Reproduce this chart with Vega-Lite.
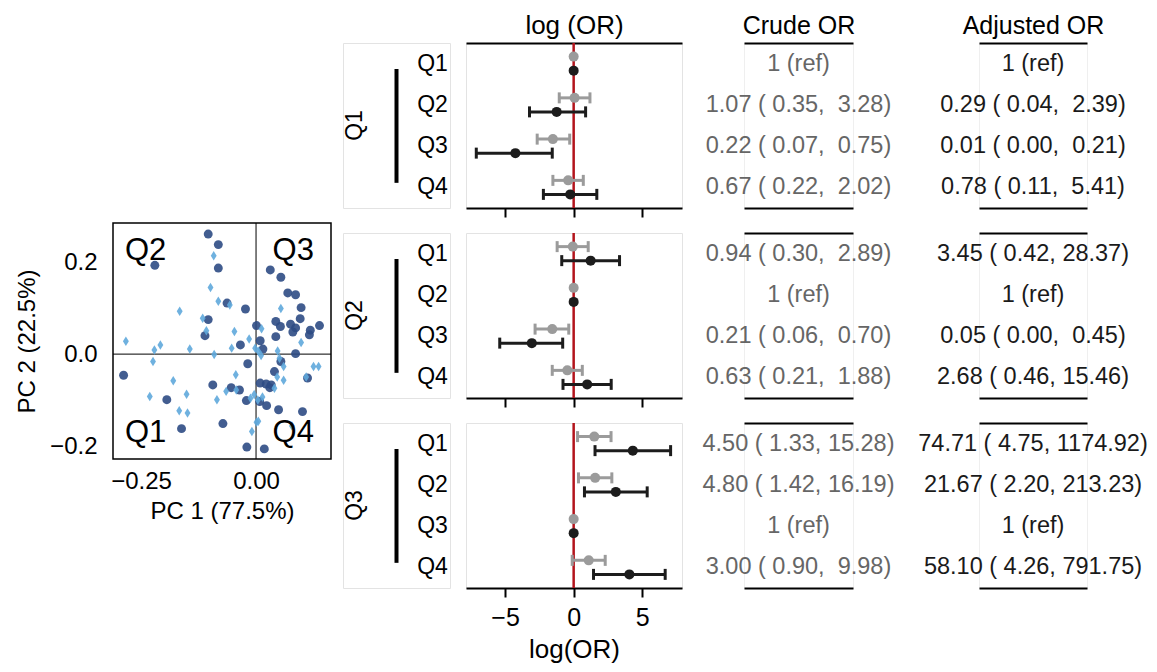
{
"$schema": "https://vega.github.io/schema/vega-lite/v6.json",
"background": "white",
"padding": {"left": 14, "top": 11, "right": 5, "bottom": 5},
"config": {"font": "Liberation Sans", "view": {"stroke": null}, "axis": {"grid": false, "titleFontWeight": "normal", "titleColor": "black", "labelColor": "black"}},
"resolve": {"scale": {"color": "independent", "shape": "independent", "size": "independent"}},
"datasets": {
"pca": [
{"pc1":-0.104,"pc2":0.261,"group":"g1"},{"pc1":-0.082,"pc2":0.238,"group":"g1"},{"pc1":-0.220,"pc2":0.193,"group":"g1"},{"pc1":-0.082,"pc2":0.187,"group":"g1"},{"pc1":0.031,"pc2":0.183,"group":"g1"},{"pc1":0.054,"pc2":0.167,"group":"g1"},{"pc1":0.069,"pc2":0.133,"group":"g1"},{"pc1":0.086,"pc2":0.129,"group":"g1"},{"pc1":-0.063,"pc2":0.111,"group":"g1"},{"pc1":-0.023,"pc2":0.098,"group":"g1"},{"pc1":0.098,"pc2":0.101,"group":"g1"},{"pc1":-0.104,"pc2":0.075,"group":"g1"},{"pc1":0.043,"pc2":0.071,"group":"g1"},{"pc1":0.096,"pc2":0.077,"group":"g1"},{"pc1":0.075,"pc2":0.065,"group":"g1"},{"pc1":0.053,"pc2":0.060,"group":"g1"},{"pc1":0.138,"pc2":0.062,"group":"g1"},{"pc1":0.086,"pc2":0.057,"group":"g1"},{"pc1":0.118,"pc2":0.052,"group":"g1"},{"pc1":0.080,"pc2":0.048,"group":"g1"},{"pc1":0.001,"pc2":0.062,"group":"g1"},{"pc1":-0.111,"pc2":0.040,"group":"g1"},{"pc1":0.043,"pc2":0.038,"group":"g1"},{"pc1":0.009,"pc2":0.029,"group":"g1"},{"pc1":0.116,"pc2":0.042,"group":"g1"},{"pc1":-0.034,"pc2":0.020,"group":"g1"},{"pc1":0.015,"pc2":0.011,"group":"g1"},{"pc1":0.086,"pc2":0.001,"group":"g1"},{"pc1":0.054,"pc2":-0.016,"group":"g1"},{"pc1":-0.018,"pc2":-0.021,"group":"g1"},{"pc1":-0.288,"pc2":-0.046,"group":"g1"},{"pc1":-0.094,"pc2":-0.067,"group":"g1"},{"pc1":-0.054,"pc2":-0.073,"group":"g1"},{"pc1":-0.036,"pc2":-0.078,"group":"g1"},{"pc1":0.009,"pc2":-0.063,"group":"g1"},{"pc1":0.022,"pc2":-0.065,"group":"g1"},{"pc1":0.033,"pc2":-0.067,"group":"g1"},{"pc1":0.040,"pc2":-0.038,"group":"g1"},{"pc1":0.112,"pc2":-0.052,"group":"g1"},{"pc1":-0.194,"pc2":-0.099,"group":"g1"},{"pc1":-0.021,"pc2":-0.101,"group":"g1"},{"pc1":0.008,"pc2":-0.103,"group":"g1"},{"pc1":0.023,"pc2":-0.112,"group":"g1"},{"pc1":0.049,"pc2":-0.121,"group":"g1"},{"pc1":0.101,"pc2":-0.125,"group":"g1"},{"pc1":-0.162,"pc2":-0.162,"group":"g1"},{"pc1":-0.072,"pc2":-0.151,"group":"g1"},{"pc1":-0.020,"pc2":-0.202,"group":"g1"},{"pc1":0.018,"pc2":-0.206,"group":"g1"},{"pc1":0.030,"pc2":-0.073,"group":"g1"},
{"pc1":-0.092,"pc2":0.214,"group":"g2"},{"pc1":-0.099,"pc2":0.145,"group":"g2"},{"pc1":-0.082,"pc2":0.115,"group":"g2"},{"pc1":-0.057,"pc2":0.107,"group":"g2"},{"pc1":-0.166,"pc2":0.093,"group":"g2"},{"pc1":-0.116,"pc2":0.078,"group":"g2"},{"pc1":-0.108,"pc2":0.051,"group":"g2"},{"pc1":-0.047,"pc2":0.049,"group":"g2"},{"pc1":-0.015,"pc2":0.033,"group":"g2"},{"pc1":0.012,"pc2":0.055,"group":"g2"},{"pc1":0.054,"pc2":0.099,"group":"g2"},{"pc1":-0.283,"pc2":0.028,"group":"g2"},{"pc1":-0.208,"pc2":0.020,"group":"g2"},{"pc1":-0.221,"pc2":0.009,"group":"g2"},{"pc1":-0.144,"pc2":0.011,"group":"g2"},{"pc1":-0.091,"pc2":-0.001,"group":"g2"},{"pc1":-0.053,"pc2":0.013,"group":"g2"},{"pc1":-0.224,"pc2":-0.016,"group":"g2"},{"pc1":0.005,"pc2":0.006,"group":"g2"},{"pc1":0.011,"pc2":-0.003,"group":"g2"},{"pc1":0.047,"pc2":0.007,"group":"g2"},{"pc1":0.098,"pc2":0.025,"group":"g2"},{"pc1":-0.002,"pc2":0.013,"group":"g2"},{"pc1":0.051,"pc2":-0.009,"group":"g2"},{"pc1":0.060,"pc2":-0.027,"group":"g2"},{"pc1":0.125,"pc2":-0.027,"group":"g2"},{"pc1":0.136,"pc2":-0.027,"group":"g2"},{"pc1":0.046,"pc2":-0.050,"group":"g2"},{"pc1":0.060,"pc2":-0.057,"group":"g2"},{"pc1":0.109,"pc2":-0.050,"group":"g2"},{"pc1":-0.180,"pc2":-0.058,"group":"g2"},{"pc1":-0.044,"pc2":-0.045,"group":"g2"},{"pc1":-0.231,"pc2":-0.092,"group":"g2"},{"pc1":-0.151,"pc2":-0.087,"group":"g2"},{"pc1":-0.085,"pc2":-0.099,"group":"g2"},{"pc1":-0.065,"pc2":-0.081,"group":"g2"},{"pc1":-0.043,"pc2":-0.078,"group":"g2"},{"pc1":-0.004,"pc2":-0.088,"group":"g2"},{"pc1":0.014,"pc2":-0.093,"group":"g2"},{"pc1":-0.167,"pc2":-0.123,"group":"g2"},{"pc1":-0.149,"pc2":-0.128,"group":"g2"},{"pc1":-0.012,"pc2":-0.096,"group":"g2"},{"pc1":0.004,"pc2":-0.100,"group":"g2"},{"pc1":0.001,"pc2":-0.148,"group":"g2"},{"pc1":-0.009,"pc2":-0.168,"group":"g2"},{"pc1":0.078,"pc2":-0.156,"group":"g2"},{"pc1":0.040,"pc2":-0.074,"group":"g2"},{"pc1":0.005,"pc2":-0.146,"group":"g2"}
],
"quad": [{"lab":"Q1","pc1":-0.285,"pc2":-0.190},{"lab":"Q2","pc1":-0.285,"pc2":0.205},{"lab":"Q3","pc1":0.036,"pc2":0.205},{"lab":"Q4","pc1":0.036,"pc2":-0.190}],
"forest": [
{"panel":"Q1","row":"Q1","type":"Crude","est":0,"lo":null,"hi":null},{"panel":"Q1","row":"Q1","type":"Adjusted","est":0,"lo":null,"hi":null},
{"panel":"Q1","row":"Q2","type":"Crude","est":0.068,"lo":-1.050,"hi":1.188},{"panel":"Q1","row":"Q2","type":"Adjusted","est":-1.238,"lo":-3.219,"hi":0.871},
{"panel":"Q1","row":"Q3","type":"Crude","est":-1.514,"lo":-2.659,"hi":-0.288},{"panel":"Q1","row":"Q3","type":"Adjusted","est":-4.25,"lo":-7.1,"hi":-1.56},
{"panel":"Q1","row":"Q4","type":"Crude","est":-0.400,"lo":-1.514,"hi":0.703},{"panel":"Q1","row":"Q4","type":"Adjusted","est":-0.248,"lo":-2.207,"hi":1.688},
{"panel":"Q2","row":"Q1","type":"Crude","est":-0.062,"lo":-1.204,"hi":1.061},{"panel":"Q2","row":"Q1","type":"Adjusted","est":1.238,"lo":-0.868,"hi":3.345},
{"panel":"Q2","row":"Q2","type":"Crude","est":0,"lo":null,"hi":null},{"panel":"Q2","row":"Q2","type":"Adjusted","est":0,"lo":null,"hi":null},
{"panel":"Q2","row":"Q3","type":"Crude","est":-1.561,"lo":-2.813,"hi":-0.357},{"panel":"Q2","row":"Q3","type":"Adjusted","est":-3.05,"lo":-5.39,"hi":-0.80},
{"panel":"Q2","row":"Q4","type":"Crude","est":-0.462,"lo":-1.561,"hi":0.631},{"panel":"Q2","row":"Q4","type":"Adjusted","est":0.986,"lo":-0.777,"hi":2.738},
{"panel":"Q3","row":"Q1","type":"Crude","est":1.504,"lo":0.285,"hi":2.726},{"panel":"Q3","row":"Q1","type":"Adjusted","est":4.314,"lo":1.558,"hi":7.069},
{"panel":"Q3","row":"Q2","type":"Crude","est":1.569,"lo":0.351,"hi":2.784},{"panel":"Q3","row":"Q2","type":"Adjusted","est":3.076,"lo":0.788,"hi":5.362},
{"panel":"Q3","row":"Q3","type":"Crude","est":0,"lo":null,"hi":null},{"panel":"Q3","row":"Q3","type":"Adjusted","est":0,"lo":null,"hi":null},
{"panel":"Q3","row":"Q4","type":"Crude","est":1.099,"lo":-0.105,"hi":2.301},{"panel":"Q3","row":"Q4","type":"Adjusted","est":4.062,"lo":1.449,"hi":6.674}
],
"table": [
{"panel":"Q1","row":"Q1","crude":"1 (ref)","adjusted":"1 (ref)"},
{"panel":"Q1","row":"Q2","crude":"1.07 ( 0.35,\u00a0 3.28)","adjusted":"0.29 ( 0.04,\u00a0 2.39)"},
{"panel":"Q1","row":"Q3","crude":"0.22 ( 0.07,\u00a0 0.75)","adjusted":"0.01 ( 0.00,\u00a0 0.21)"},
{"panel":"Q1","row":"Q4","crude":"0.67 ( 0.22,\u00a0 2.02)","adjusted":"0.78 ( 0.11,\u00a0 5.41)"},
{"panel":"Q2","row":"Q1","crude":"0.94 ( 0.30,\u00a0 2.89)","adjusted":"3.45 ( 0.42, 28.37)"},
{"panel":"Q2","row":"Q2","crude":"1 (ref)","adjusted":"1 (ref)"},
{"panel":"Q2","row":"Q3","crude":"0.21 ( 0.06,\u00a0 0.70)","adjusted":"0.05 ( 0.00,\u00a0 0.45)"},
{"panel":"Q2","row":"Q4","crude":"0.63 ( 0.21,\u00a0 1.88)","adjusted":"2.68 ( 0.46, 15.46)"},
{"panel":"Q3","row":"Q1","crude":"4.50 ( 1.33, 15.28)","adjusted":"74.71 ( 4.75, 1174.92)"},
{"panel":"Q3","row":"Q2","crude":"4.80 ( 1.42, 16.19)","adjusted":"21.67 ( 2.20, 213.23)"},
{"panel":"Q3","row":"Q3","crude":"1 (ref)","adjusted":"1 (ref)"},
{"panel":"Q3","row":"Q4","crude":"3.00 ( 0.90,\u00a0 9.98)","adjusted":"58.10 ( 4.26, 791.75)"}
]
},
"spacing": 9,
"hconcat": [
{"bounds": "flush", "spacing": 0, "vconcat": [
  {"width": 218, "height": 180, "data": {"values": []}, "mark": {"type": "point", "opacity": 0}, "encoding": {}},
  {"width": 218, "height": 236, "view": {"stroke": "black", "strokeWidth": 1.5},
   "layer": [
    {"data": {"values": [{}]}, "mark": {"type": "rule", "color": "black", "strokeWidth": 1},
     "encoding": {"x": {"datum": 0, "type": "quantitative", "scale": {"domain": [-0.311, 0.163], "nice": false, "zero": false}}}},
    {"data": {"values": [{}]}, "mark": {"type": "rule", "color": "black", "strokeWidth": 1},
     "encoding": {"y": {"datum": 0, "type": "quantitative", "scale": {"domain": [-0.228, 0.285], "nice": false, "zero": false}}}},
    {"data": {"name": "pca"}, "mark": {"type": "point", "filled": true, "opacity": 0.9},
     "encoding": {
      "x": {"field": "pc1", "type": "quantitative", "scale": {"domain": [-0.311, 0.163], "nice": false, "zero": false},
            "axis": {"values": [-0.25, 0], "format": ".2f", "ticks": false, "domain": false, "labelFontSize": 24, "labelPadding": 10, "title": "PC 1 (77.5%)", "titleFontSize": 24, "titlePadding": 6}},
      "y": {"field": "pc2", "type": "quantitative", "scale": {"domain": [-0.228, 0.285], "nice": false, "zero": false},
            "axis": {"values": [-0.2, 0, 0.2], "format": ".1f", "ticks": false, "domain": false, "labelFontSize": 24, "labelPadding": 16, "title": "PC 2 (22.5%)", "titleFontSize": 24, "titlePadding": 10}},
      "shape": {"field": "group", "type": "nominal", "scale": {"domain": ["g1", "g2"], "range": ["circle", "M0,-1L0.62,0L0,1L-0.62,0Z"]}, "legend": null},
      "color": {"field": "group", "type": "nominal", "scale": {"domain": ["g1", "g2"], "range": ["#2d4b84", "#5fa9dc"]}, "legend": null},
      "size": {"field": "group", "type": "nominal", "scale": {"domain": ["g1", "g2"], "range": [80, 90]}, "legend": null}
     }},
    {"data": {"name": "quad"}, "mark": {"type": "text", "fontSize": 31, "align": "left", "baseline": "alphabetic", "color": "black"},
     "encoding": {"x": {"field": "pc1", "type": "quantitative"}, "y": {"field": "pc2", "type": "quantitative"}, "text": {"field": "lab"}}}
   ]}
]},
{"spacing": 12, "vconcat": [
 {"bounds": "flush", "spacing": 16, "hconcat": [
  {"width": 107, "height": 165, "view": {"stroke": "#e3e3e3"},
   "layer": [
    {"data": {"name": "table"}, "transform": [{"filter": "datum.panel === 'Q1'"}], "mark": {"type": "text", "align": "right", "baseline": "middle", "fontSize": 23},
     "encoding": {"x": {"datum": 0.98, "type": "quantitative", "scale": {"domain": [0, 1]}, "axis": null}, "y": {"field": "row", "type": "nominal", "scale": {"domain": ["Q1","Q2","Q3","Q4"], "paddingInner": 0, "paddingOuter": 0}, "axis": null}, "text": {"field": "row"}}},
    {"data": {"values": [{}]}, "mark": {"type": "rule", "strokeWidth": 4, "color": "black"},
     "encoding": {"x": {"datum": 0.5, "type": "quantitative", "scale": {"domain": [0, 1]}, "axis": null}, "y": {"datum": "Q1", "type": "nominal", "bandPosition": 0.63, "scale": {"domain": ["Q1","Q2","Q3","Q4"], "paddingInner": 0, "paddingOuter": 0}, "axis": null}, "y2": {"datum": "Q4", "bandPosition": 0.39}}},
    {"data": {"values": [{"group": "Q1"}]}, "mark": {"type": "text", "angle": 270, "align": "center", "baseline": "middle", "fontSize": 23},
     "encoding": {"x": {"datum": 0.112, "type": "quantitative", "scale": {"domain": [0, 1]}, "axis": null}, "y": {"datum": "Q2", "type": "nominal", "bandPosition": 1, "scale": {"domain": ["Q1","Q2","Q3","Q4"], "paddingInner": 0, "paddingOuter": 0}, "axis": null}, "text": {"field": "group"}}}
   ]},
  {"bounds": "flush", "spacing": 62, "hconcat": [
   {"width": 216, "height": 165, "view": {"stroke": "#e3e3e3"}, "resolve": {"axis": {"x": "independent"}},
    "layer": [
     {"data": {"values": [{}]}, "mark": {"type": "rule", "color": "#b3141c", "strokeWidth": 2.5},
      "encoding": {"x": {"datum": 0, "type": "quantitative", "scale": {"domain": [-7.85, 7.9], "nice": false, "zero": false},
        "axis": {"orient": "top", "labels": false, "ticks": false, "domain": true, "domainColor": "black", "domainWidth": 2, "title": "log (OR)", "titleFontSize": 26, "titlePadding": 5}}}},
     {"data": {"name": "forest"}, "transform": [{"filter": "datum.panel === 'Q1' && isValid(datum.lo)"}], "mark": {"type": "rule", "strokeWidth": 3},
      "encoding": {"x": {"field": "lo", "type": "quantitative", "scale": {"domain": [-7.85, 7.9], "nice": false, "zero": false}, "axis": null}, "x2": {"field": "hi"},
       "y": {"field": "row", "type": "nominal", "scale": {"domain": ["Q1","Q2","Q3","Q4"], "paddingInner": 0, "paddingOuter": 0}, "axis": null},
       "yOffset": {"field": "type", "type": "nominal", "scale": {"domain": ["Crude", "Adjusted"], "paddingInner": 0, "paddingOuter": 0.473}},
       "color": {"field": "type", "type": "nominal", "scale": {"domain": ["Crude", "Adjusted"], "range": ["#9b9b9b", "#1c1c1c"]}, "legend": null}}},
     {"data": {"name": "forest"}, "transform": [{"filter": "datum.panel === 'Q1' && isValid(datum.lo)"}], "mark": {"type": "tick", "thickness": 3, "size": 11, "opacity": 1},
      "encoding": {"x": {"field": "lo", "type": "quantitative", "scale": {"domain": [-7.85, 7.9], "nice": false, "zero": false}, "axis": null},
       "y": {"field": "row", "type": "nominal", "scale": {"domain": ["Q1","Q2","Q3","Q4"], "paddingInner": 0, "paddingOuter": 0}, "axis": null},
       "yOffset": {"field": "type", "type": "nominal", "scale": {"domain": ["Crude", "Adjusted"], "paddingInner": 0, "paddingOuter": 0.473}},
       "color": {"field": "type", "type": "nominal", "scale": {"domain": ["Crude", "Adjusted"], "range": ["#9b9b9b", "#1c1c1c"]}, "legend": null}}},
     {"data": {"name": "forest"}, "transform": [{"filter": "datum.panel === 'Q1' && isValid(datum.lo)"}], "mark": {"type": "tick", "thickness": 3, "size": 11, "opacity": 1},
      "encoding": {"x": {"field": "hi", "type": "quantitative", "scale": {"domain": [-7.85, 7.9], "nice": false, "zero": false}, "axis": null},
       "y": {"field": "row", "type": "nominal", "scale": {"domain": ["Q1","Q2","Q3","Q4"], "paddingInner": 0, "paddingOuter": 0}, "axis": null},
       "yOffset": {"field": "type", "type": "nominal", "scale": {"domain": ["Crude", "Adjusted"], "paddingInner": 0, "paddingOuter": 0.473}},
       "color": {"field": "type", "type": "nominal", "scale": {"domain": ["Crude", "Adjusted"], "range": ["#9b9b9b", "#1c1c1c"]}, "legend": null}}},
     {"data": {"name": "forest"}, "transform": [{"filter": "datum.panel === 'Q1'"}], "mark": {"type": "circle", "size": 100, "opacity": 1},
      "encoding": {"x": {"field": "est", "type": "quantitative", "scale": {"domain": [-7.85, 7.9], "nice": false, "zero": false},
        "axis": {"orient": "bottom", "values": [-5, 0, 5], "labels": false, "ticks": true, "tickSize": 9, "tickWidth": 2, "tickColor": "black", "domain": true, "domainColor": "black", "domainWidth": 2, "title": null}},
       "y": {"field": "row", "type": "nominal", "scale": {"domain": ["Q1","Q2","Q3","Q4"], "paddingInner": 0, "paddingOuter": 0}, "axis": null},
       "yOffset": {"field": "type", "type": "nominal", "scale": {"domain": ["Crude", "Adjusted"], "paddingInner": 0, "paddingOuter": 0.473}},
       "color": {"field": "type", "type": "nominal", "scale": {"domain": ["Crude", "Adjusted"], "range": ["#9b9b9b", "#1c1c1c"]}, "legend": null}}}
    ]},
   {"bounds": "flush", "spacing": 126, "hconcat": [
    {"width": 109, "height": 165, "view": {"stroke": "#efefef"}, "resolve": {"axis": {"x": "independent"}},
     "layer": [
      {"data": {"name": "table"}, "transform": [{"filter": "datum.panel === 'Q1' && datum.crude !== '1 (ref)'"}], "mark": {"type": "text", "fontSize": 23.5, "color": "#666666", "baseline": "middle"},
       "encoding": {"x": {"datum": 0.5, "type": "quantitative", "scale": {"domain": [0, 1]}, "axis": {"orient": "bottom", "labels": false, "ticks": false, "domainColor": "black", "domainWidth": 2, "title": null}},
        "y": {"field": "row", "type": "nominal", "scale": {"domain": ["Q1","Q2","Q3","Q4"], "paddingInner": 0, "paddingOuter": 0}, "axis": null}, "text": {"field": "crude"}}},
      {"data": {"name": "table"}, "transform": [{"filter": "datum.panel === 'Q1' && datum.crude === '1 (ref)'"}], "mark": {"type": "text", "fontSize": 23.5, "color": "#666666", "baseline": "middle"},
       "encoding": {"x": {"datum": 0.5, "type": "quantitative", "scale": {"domain": [0, 1]}, "axis": {"orient": "top", "labels": false, "ticks": false, "domainColor": "black", "domainWidth": 2, "title": "Crude OR", "titleFontSize": 25, "titlePadding": 5}},
        "y": {"field": "row", "type": "nominal", "scale": {"domain": ["Q1","Q2","Q3","Q4"], "paddingInner": 0, "paddingOuter": 0}, "axis": null}, "text": {"field": "crude"}}}
     ]},
    {"width": 108, "height": 165, "view": {"stroke": "#efefef"}, "resolve": {"axis": {"x": "independent"}},
     "layer": [
      {"data": {"name": "table"}, "transform": [{"filter": "datum.panel === 'Q1' && datum.adjusted !== '1 (ref)'"}], "mark": {"type": "text", "fontSize": 23.5, "color": "#1a1a1a", "baseline": "middle"},
       "encoding": {"x": {"datum": 0.5, "type": "quantitative", "scale": {"domain": [0, 1]}, "axis": {"orient": "bottom", "labels": false, "ticks": false, "domainColor": "black", "domainWidth": 2, "title": null}},
        "y": {"field": "row", "type": "nominal", "scale": {"domain": ["Q1","Q2","Q3","Q4"], "paddingInner": 0, "paddingOuter": 0}, "axis": null}, "text": {"field": "adjusted"}}},
      {"data": {"name": "table"}, "transform": [{"filter": "datum.panel === 'Q1' && datum.adjusted === '1 (ref)'"}], "mark": {"type": "text", "fontSize": 23.5, "color": "#1a1a1a", "baseline": "middle"},
       "encoding": {"x": {"datum": 0.5, "type": "quantitative", "scale": {"domain": [0, 1]}, "axis": {"orient": "top", "labels": false, "ticks": false, "domainColor": "black", "domainWidth": 2, "title": "Adjusted OR", "titleFontSize": 25, "titlePadding": 5}},
        "y": {"field": "row", "type": "nominal", "scale": {"domain": ["Q1","Q2","Q3","Q4"], "paddingInner": 0, "paddingOuter": 0}, "axis": null}, "text": {"field": "adjusted"}}}
     ]}
   ]}
  ]}
 ]},
 {"bounds": "flush", "spacing": 16, "hconcat": [
  {"width": 107, "height": 165, "view": {"stroke": "#e3e3e3"},
   "layer": [
    {"data": {"name": "table"}, "transform": [{"filter": "datum.panel === 'Q2'"}], "mark": {"type": "text", "align": "right", "baseline": "middle", "fontSize": 23},
     "encoding": {"x": {"datum": 0.98, "type": "quantitative", "scale": {"domain": [0, 1]}, "axis": null}, "y": {"field": "row", "type": "nominal", "scale": {"domain": ["Q1","Q2","Q3","Q4"], "paddingInner": 0, "paddingOuter": 0}, "axis": null}, "text": {"field": "row"}}},
    {"data": {"values": [{}]}, "mark": {"type": "rule", "strokeWidth": 4, "color": "black"},
     "encoding": {"x": {"datum": 0.5, "type": "quantitative", "scale": {"domain": [0, 1]}, "axis": null}, "y": {"datum": "Q1", "type": "nominal", "bandPosition": 0.63, "scale": {"domain": ["Q1","Q2","Q3","Q4"], "paddingInner": 0, "paddingOuter": 0}, "axis": null}, "y2": {"datum": "Q4", "bandPosition": 0.39}}},
    {"data": {"values": [{"group": "Q2"}]}, "mark": {"type": "text", "angle": 270, "align": "center", "baseline": "middle", "fontSize": 23},
     "encoding": {"x": {"datum": 0.112, "type": "quantitative", "scale": {"domain": [0, 1]}, "axis": null}, "y": {"datum": "Q2", "type": "nominal", "bandPosition": 1, "scale": {"domain": ["Q1","Q2","Q3","Q4"], "paddingInner": 0, "paddingOuter": 0}, "axis": null}, "text": {"field": "group"}}}
   ]},
  {"bounds": "flush", "spacing": 62, "hconcat": [
   {"width": 216, "height": 165, "view": {"stroke": "#e3e3e3"}, "resolve": {"axis": {"x": "independent"}},
    "layer": [
     {"data": {"values": [{}]}, "mark": {"type": "rule", "color": "#b3141c", "strokeWidth": 2.5},
      "encoding": {"x": {"datum": 0, "type": "quantitative", "scale": {"domain": [-7.85, 7.9], "nice": false, "zero": false}, "axis": null}}},
     {"data": {"name": "forest"}, "transform": [{"filter": "datum.panel === 'Q2' && isValid(datum.lo)"}], "mark": {"type": "rule", "strokeWidth": 3},
      "encoding": {"x": {"field": "lo", "type": "quantitative", "scale": {"domain": [-7.85, 7.9], "nice": false, "zero": false}, "axis": null}, "x2": {"field": "hi"},
       "y": {"field": "row", "type": "nominal", "scale": {"domain": ["Q1","Q2","Q3","Q4"], "paddingInner": 0, "paddingOuter": 0}, "axis": null},
       "yOffset": {"field": "type", "type": "nominal", "scale": {"domain": ["Crude", "Adjusted"], "paddingInner": 0, "paddingOuter": 0.473}},
       "color": {"field": "type", "type": "nominal", "scale": {"domain": ["Crude", "Adjusted"], "range": ["#9b9b9b", "#1c1c1c"]}, "legend": null}}},
     {"data": {"name": "forest"}, "transform": [{"filter": "datum.panel === 'Q2' && isValid(datum.lo)"}], "mark": {"type": "tick", "thickness": 3, "size": 11, "opacity": 1},
      "encoding": {"x": {"field": "lo", "type": "quantitative", "scale": {"domain": [-7.85, 7.9], "nice": false, "zero": false}, "axis": null},
       "y": {"field": "row", "type": "nominal", "scale": {"domain": ["Q1","Q2","Q3","Q4"], "paddingInner": 0, "paddingOuter": 0}, "axis": null},
       "yOffset": {"field": "type", "type": "nominal", "scale": {"domain": ["Crude", "Adjusted"], "paddingInner": 0, "paddingOuter": 0.473}},
       "color": {"field": "type", "type": "nominal", "scale": {"domain": ["Crude", "Adjusted"], "range": ["#9b9b9b", "#1c1c1c"]}, "legend": null}}},
     {"data": {"name": "forest"}, "transform": [{"filter": "datum.panel === 'Q2' && isValid(datum.lo)"}], "mark": {"type": "tick", "thickness": 3, "size": 11, "opacity": 1},
      "encoding": {"x": {"field": "hi", "type": "quantitative", "scale": {"domain": [-7.85, 7.9], "nice": false, "zero": false}, "axis": null},
       "y": {"field": "row", "type": "nominal", "scale": {"domain": ["Q1","Q2","Q3","Q4"], "paddingInner": 0, "paddingOuter": 0}, "axis": null},
       "yOffset": {"field": "type", "type": "nominal", "scale": {"domain": ["Crude", "Adjusted"], "paddingInner": 0, "paddingOuter": 0.473}},
       "color": {"field": "type", "type": "nominal", "scale": {"domain": ["Crude", "Adjusted"], "range": ["#9b9b9b", "#1c1c1c"]}, "legend": null}}},
     {"data": {"name": "forest"}, "transform": [{"filter": "datum.panel === 'Q2'"}], "mark": {"type": "circle", "size": 100, "opacity": 1},
      "encoding": {"x": {"field": "est", "type": "quantitative", "scale": {"domain": [-7.85, 7.9], "nice": false, "zero": false},
        "axis": {"orient": "bottom", "values": [-5, 0, 5], "labels": false, "ticks": true, "tickSize": 9, "tickWidth": 2, "tickColor": "black", "domain": true, "domainColor": "black", "domainWidth": 2, "title": null}},
       "y": {"field": "row", "type": "nominal", "scale": {"domain": ["Q1","Q2","Q3","Q4"], "paddingInner": 0, "paddingOuter": 0}, "axis": null},
       "yOffset": {"field": "type", "type": "nominal", "scale": {"domain": ["Crude", "Adjusted"], "paddingInner": 0, "paddingOuter": 0.473}},
       "color": {"field": "type", "type": "nominal", "scale": {"domain": ["Crude", "Adjusted"], "range": ["#9b9b9b", "#1c1c1c"]}, "legend": null}}}
    ]},
   {"bounds": "flush", "spacing": 126, "hconcat": [
    {"width": 109, "height": 165, "view": {"stroke": "#efefef"}, "resolve": {"axis": {"x": "independent"}},
     "layer": [
      {"data": {"name": "table"}, "transform": [{"filter": "datum.panel === 'Q2' && datum.crude !== '1 (ref)'"}], "mark": {"type": "text", "fontSize": 23.5, "color": "#666666", "baseline": "middle"},
       "encoding": {"x": {"datum": 0.5, "type": "quantitative", "scale": {"domain": [0, 1]}, "axis": {"orient": "bottom", "labels": false, "ticks": false, "domainColor": "black", "domainWidth": 2, "title": null}},
        "y": {"field": "row", "type": "nominal", "scale": {"domain": ["Q1","Q2","Q3","Q4"], "paddingInner": 0, "paddingOuter": 0}, "axis": null}, "text": {"field": "crude"}}},
      {"data": {"name": "table"}, "transform": [{"filter": "datum.panel === 'Q2' && datum.crude === '1 (ref)'"}], "mark": {"type": "text", "fontSize": 23.5, "color": "#666666", "baseline": "middle"},
       "encoding": {"x": {"datum": 0.5, "type": "quantitative", "scale": {"domain": [0, 1]}, "axis": {"orient": "top", "labels": false, "ticks": false, "domainColor": "black", "domainWidth": 2, "title": null}},
        "y": {"field": "row", "type": "nominal", "scale": {"domain": ["Q1","Q2","Q3","Q4"], "paddingInner": 0, "paddingOuter": 0}, "axis": null}, "text": {"field": "crude"}}}
     ]},
    {"width": 108, "height": 165, "view": {"stroke": "#efefef"}, "resolve": {"axis": {"x": "independent"}},
     "layer": [
      {"data": {"name": "table"}, "transform": [{"filter": "datum.panel === 'Q2' && datum.adjusted !== '1 (ref)'"}], "mark": {"type": "text", "fontSize": 23.5, "color": "#1a1a1a", "baseline": "middle"},
       "encoding": {"x": {"datum": 0.5, "type": "quantitative", "scale": {"domain": [0, 1]}, "axis": {"orient": "bottom", "labels": false, "ticks": false, "domainColor": "black", "domainWidth": 2, "title": null}},
        "y": {"field": "row", "type": "nominal", "scale": {"domain": ["Q1","Q2","Q3","Q4"], "paddingInner": 0, "paddingOuter": 0}, "axis": null}, "text": {"field": "adjusted"}}},
      {"data": {"name": "table"}, "transform": [{"filter": "datum.panel === 'Q2' && datum.adjusted === '1 (ref)'"}], "mark": {"type": "text", "fontSize": 23.5, "color": "#1a1a1a", "baseline": "middle"},
       "encoding": {"x": {"datum": 0.5, "type": "quantitative", "scale": {"domain": [0, 1]}, "axis": {"orient": "top", "labels": false, "ticks": false, "domainColor": "black", "domainWidth": 2, "title": null}},
        "y": {"field": "row", "type": "nominal", "scale": {"domain": ["Q1","Q2","Q3","Q4"], "paddingInner": 0, "paddingOuter": 0}, "axis": null}, "text": {"field": "adjusted"}}}
     ]}
   ]}
  ]}
 ]},
 {"bounds": "flush", "spacing": 16, "hconcat": [
  {"width": 107, "height": 165, "view": {"stroke": "#e3e3e3"},
   "layer": [
    {"data": {"name": "table"}, "transform": [{"filter": "datum.panel === 'Q3'"}], "mark": {"type": "text", "align": "right", "baseline": "middle", "fontSize": 23},
     "encoding": {"x": {"datum": 0.98, "type": "quantitative", "scale": {"domain": [0, 1]}, "axis": null}, "y": {"field": "row", "type": "nominal", "scale": {"domain": ["Q1","Q2","Q3","Q4"], "paddingInner": 0, "paddingOuter": 0}, "axis": null}, "text": {"field": "row"}}},
    {"data": {"values": [{}]}, "mark": {"type": "rule", "strokeWidth": 4, "color": "black"},
     "encoding": {"x": {"datum": 0.5, "type": "quantitative", "scale": {"domain": [0, 1]}, "axis": null}, "y": {"datum": "Q1", "type": "nominal", "bandPosition": 0.63, "scale": {"domain": ["Q1","Q2","Q3","Q4"], "paddingInner": 0, "paddingOuter": 0}, "axis": null}, "y2": {"datum": "Q4", "bandPosition": 0.39}}},
    {"data": {"values": [{"group": "Q3"}]}, "mark": {"type": "text", "angle": 270, "align": "center", "baseline": "middle", "fontSize": 23},
     "encoding": {"x": {"datum": 0.112, "type": "quantitative", "scale": {"domain": [0, 1]}, "axis": null}, "y": {"datum": "Q2", "type": "nominal", "bandPosition": 1, "scale": {"domain": ["Q1","Q2","Q3","Q4"], "paddingInner": 0, "paddingOuter": 0}, "axis": null}, "text": {"field": "group"}}}
   ]},
  {"bounds": "flush", "spacing": 62, "hconcat": [
   {"width": 216, "height": 165, "view": {"stroke": "#e3e3e3"}, "resolve": {"axis": {"x": "independent"}},
    "layer": [
     {"data": {"values": [{}]}, "mark": {"type": "rule", "color": "#b3141c", "strokeWidth": 2.5},
      "encoding": {"x": {"datum": 0, "type": "quantitative", "scale": {"domain": [-7.85, 7.9], "nice": false, "zero": false}, "axis": null}}},
     {"data": {"name": "forest"}, "transform": [{"filter": "datum.panel === 'Q3' && isValid(datum.lo)"}], "mark": {"type": "rule", "strokeWidth": 3},
      "encoding": {"x": {"field": "lo", "type": "quantitative", "scale": {"domain": [-7.85, 7.9], "nice": false, "zero": false}, "axis": null}, "x2": {"field": "hi"},
       "y": {"field": "row", "type": "nominal", "scale": {"domain": ["Q1","Q2","Q3","Q4"], "paddingInner": 0, "paddingOuter": 0}, "axis": null},
       "yOffset": {"field": "type", "type": "nominal", "scale": {"domain": ["Crude", "Adjusted"], "paddingInner": 0, "paddingOuter": 0.473}},
       "color": {"field": "type", "type": "nominal", "scale": {"domain": ["Crude", "Adjusted"], "range": ["#9b9b9b", "#1c1c1c"]}, "legend": null}}},
     {"data": {"name": "forest"}, "transform": [{"filter": "datum.panel === 'Q3' && isValid(datum.lo)"}], "mark": {"type": "tick", "thickness": 3, "size": 11, "opacity": 1},
      "encoding": {"x": {"field": "lo", "type": "quantitative", "scale": {"domain": [-7.85, 7.9], "nice": false, "zero": false}, "axis": null},
       "y": {"field": "row", "type": "nominal", "scale": {"domain": ["Q1","Q2","Q3","Q4"], "paddingInner": 0, "paddingOuter": 0}, "axis": null},
       "yOffset": {"field": "type", "type": "nominal", "scale": {"domain": ["Crude", "Adjusted"], "paddingInner": 0, "paddingOuter": 0.473}},
       "color": {"field": "type", "type": "nominal", "scale": {"domain": ["Crude", "Adjusted"], "range": ["#9b9b9b", "#1c1c1c"]}, "legend": null}}},
     {"data": {"name": "forest"}, "transform": [{"filter": "datum.panel === 'Q3' && isValid(datum.lo)"}], "mark": {"type": "tick", "thickness": 3, "size": 11, "opacity": 1},
      "encoding": {"x": {"field": "hi", "type": "quantitative", "scale": {"domain": [-7.85, 7.9], "nice": false, "zero": false}, "axis": null},
       "y": {"field": "row", "type": "nominal", "scale": {"domain": ["Q1","Q2","Q3","Q4"], "paddingInner": 0, "paddingOuter": 0}, "axis": null},
       "yOffset": {"field": "type", "type": "nominal", "scale": {"domain": ["Crude", "Adjusted"], "paddingInner": 0, "paddingOuter": 0.473}},
       "color": {"field": "type", "type": "nominal", "scale": {"domain": ["Crude", "Adjusted"], "range": ["#9b9b9b", "#1c1c1c"]}, "legend": null}}},
     {"data": {"name": "forest"}, "transform": [{"filter": "datum.panel === 'Q3'"}], "mark": {"type": "circle", "size": 100, "opacity": 1},
      "encoding": {"x": {"field": "est", "type": "quantitative", "scale": {"domain": [-7.85, 7.9], "nice": false, "zero": false},
        "axis": {"orient": "bottom", "values": [-5, 0, 5], "format": "d", "labels": true, "labelFontSize": 25, "labelPadding": 8, "ticks": true, "tickSize": 9, "tickWidth": 2, "tickColor": "black", "domain": true, "domainColor": "black", "domainWidth": 2, "title": "log(OR)", "titleFontSize": 26, "titlePadding": 6}},
       "y": {"field": "row", "type": "nominal", "scale": {"domain": ["Q1","Q2","Q3","Q4"], "paddingInner": 0, "paddingOuter": 0}, "axis": null},
       "yOffset": {"field": "type", "type": "nominal", "scale": {"domain": ["Crude", "Adjusted"], "paddingInner": 0, "paddingOuter": 0.473}},
       "color": {"field": "type", "type": "nominal", "scale": {"domain": ["Crude", "Adjusted"], "range": ["#9b9b9b", "#1c1c1c"]}, "legend": null}}}
    ]},
   {"bounds": "flush", "spacing": 126, "hconcat": [
    {"width": 109, "height": 165, "view": {"stroke": "#efefef"}, "resolve": {"axis": {"x": "independent"}},
     "layer": [
      {"data": {"name": "table"}, "transform": [{"filter": "datum.panel === 'Q3' && datum.crude !== '1 (ref)'"}], "mark": {"type": "text", "fontSize": 23.5, "color": "#666666", "baseline": "middle"},
       "encoding": {"x": {"datum": 0.5, "type": "quantitative", "scale": {"domain": [0, 1]}, "axis": {"orient": "bottom", "labels": false, "ticks": false, "domainColor": "black", "domainWidth": 2, "title": null}},
        "y": {"field": "row", "type": "nominal", "scale": {"domain": ["Q1","Q2","Q3","Q4"], "paddingInner": 0, "paddingOuter": 0}, "axis": null}, "text": {"field": "crude"}}},
      {"data": {"name": "table"}, "transform": [{"filter": "datum.panel === 'Q3' && datum.crude === '1 (ref)'"}], "mark": {"type": "text", "fontSize": 23.5, "color": "#666666", "baseline": "middle"},
       "encoding": {"x": {"datum": 0.5, "type": "quantitative", "scale": {"domain": [0, 1]}, "axis": {"orient": "top", "labels": false, "ticks": false, "domainColor": "black", "domainWidth": 2, "title": null}},
        "y": {"field": "row", "type": "nominal", "scale": {"domain": ["Q1","Q2","Q3","Q4"], "paddingInner": 0, "paddingOuter": 0}, "axis": null}, "text": {"field": "crude"}}}
     ]},
    {"width": 108, "height": 165, "view": {"stroke": "#efefef"}, "resolve": {"axis": {"x": "independent"}},
     "layer": [
      {"data": {"name": "table"}, "transform": [{"filter": "datum.panel === 'Q3' && datum.adjusted !== '1 (ref)'"}], "mark": {"type": "text", "fontSize": 23.5, "color": "#1a1a1a", "baseline": "middle"},
       "encoding": {"x": {"datum": 0.5, "type": "quantitative", "scale": {"domain": [0, 1]}, "axis": {"orient": "bottom", "labels": false, "ticks": false, "domainColor": "black", "domainWidth": 2, "title": null}},
        "y": {"field": "row", "type": "nominal", "scale": {"domain": ["Q1","Q2","Q3","Q4"], "paddingInner": 0, "paddingOuter": 0}, "axis": null}, "text": {"field": "adjusted"}}},
      {"data": {"name": "table"}, "transform": [{"filter": "datum.panel === 'Q3' && datum.adjusted === '1 (ref)'"}], "mark": {"type": "text", "fontSize": 23.5, "color": "#1a1a1a", "baseline": "middle"},
       "encoding": {"x": {"datum": 0.5, "type": "quantitative", "scale": {"domain": [0, 1]}, "axis": {"orient": "top", "labels": false, "ticks": false, "domainColor": "black", "domainWidth": 2, "title": null}},
        "y": {"field": "row", "type": "nominal", "scale": {"domain": ["Q1","Q2","Q3","Q4"], "paddingInner": 0, "paddingOuter": 0}, "axis": null}, "text": {"field": "adjusted"}}}
     ]}
   ]}
  ]}
 ]}
]}
]
}
